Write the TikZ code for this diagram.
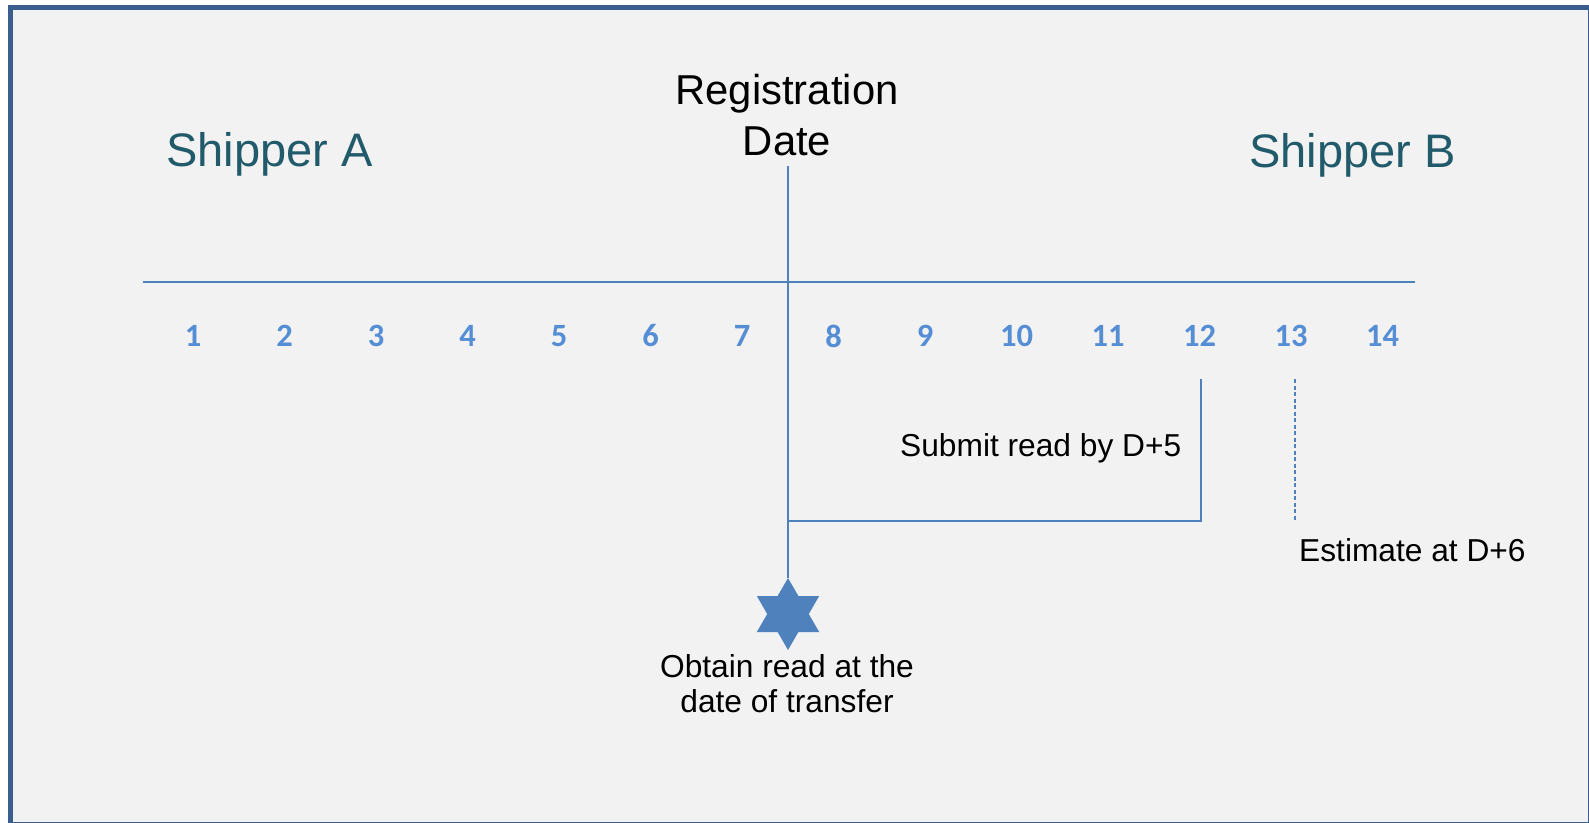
\documentclass[tikz,border=0pt]{standalone}
\usepackage{fontspec}
\usetikzlibrary{calc}
\setmainfont{Liberation Sans}
\newfontfamily\numfont{Carlito}
\definecolor{framecol}{HTML}{3A5F8F}
\definecolor{bgcol}{HTML}{F2F2F2}
\definecolor{linecol}{HTML}{4F81BD}
\definecolor{numcol}{HTML}{558ED5}
\definecolor{shipcol}{HTML}{215A6A}
\begin{document}
\begin{tikzpicture}[x=1pt,y=-1pt,
  shiplbl/.style={anchor=base west,inner sep=0pt,text=shipcol,font=\fontsize{47}{56}\selectfont},
  smalllbl/.style={inner sep=0pt,text=black,font=\fontsize{31.7}{35.5}\selectfont},
  daynum/.style={inner sep=0pt,text=numcol,font=\numfont\bfseries\fontsize{32.5}{36}\selectfont},
  tline/.style={draw=linecol,line width=2pt},
  dline/.style={draw=linecol,line width=2pt,dash pattern=on 4pt off 2.5pt}]
\useasboundingbox (0,0) rectangle (1589,822);
\fill[white] (0,0) rectangle (1589,822);
\begin{scope}
\clip (0,0) rectangle (1589,822);
\draw[framecol,line width=5pt,fill=bgcol] (10,7.5) rectangle (1590,824);
\end{scope}
% titles
\node[shiplbl] (shipA) at (166,166) {Shipper A};
\node[shiplbl] (shipB) at (1249,167) {Shipper B};
\node[anchor=base,inner sep=0pt,align=center,font=\fontsize{41.8}{51}\selectfont] (regdate) at (787,155) {Registration\\Date};
% axis
\coordinate (axL) at (142.7,281.7);
\coordinate (axR) at (1415,281.7);
\draw[tline] (axL) -- (axR);
\foreach \i in {1,...,14} {
  \node[daynum] (n\i) at ({193+(\i-1)*91.5},336) {\i};
}
% star
\coordinate (sc) at (788,614);
\fill[linecol] ($(sc)+(90:36)$) -- ($(sc)+(210:36)$) -- ($(sc)+(330:36)$) -- cycle;
\fill[linecol] ($(sc)+(270:36)$) -- ($(sc)+(30:36)$) -- ($(sc)+(150:36)$) -- cycle;
\coordinate (startop) at (788,578);
\coordinate (vtop) at (788,166);
\draw[tline] (vtop) -- (startop);
% submit bracket
\coordinate (brL) at (788,521);
\coordinate (brR) at (1201,521);
\coordinate (brT) at (1201,379);
\draw[tline] (brL) -- (brR) -- (brT);
% dashed estimate
\coordinate (dT) at (1295,379);
\coordinate (dB) at (1295,520);
\draw[dline] (dT) -- (dB);
% labels
\node[smalllbl,anchor=base west] (submit) at (900,456.7) {Submit read by D+5};
\node[smalllbl,anchor=base west] (estimate) at (1299,561.7) {Estimate at D+6};
\node[smalllbl,anchor=base,align=center] (obtain) at (787,712.5) {Obtain read at the\\date of transfer};
\end{tikzpicture}
\end{document}
